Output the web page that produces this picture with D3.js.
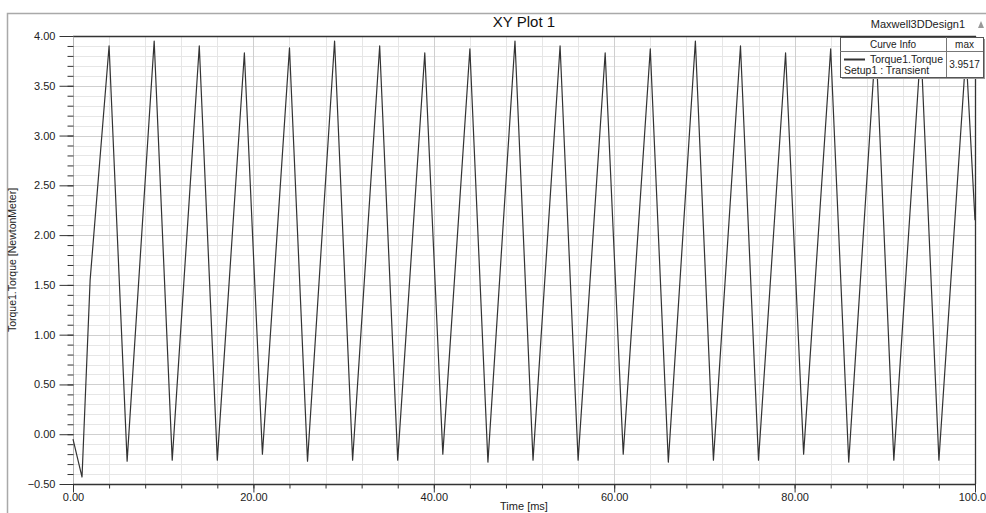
<!DOCTYPE html>
<html>
<head>
<meta charset="utf-8">
<script src="https://cdn.jsdelivr.net/npm/d3@7"></script>
<style>
  body { margin: 0; background: #fff; }
  svg { display: block; font-family: "Liberation Sans", Arial, sans-serif; }
</style>
</head>
<body>
<svg id="drawsvg" width="986" height="513"></svg>
<script>
// torque samples (vertices of the curve)
var timeMs = [0, 1, 1.9, 4, 6, 9, 11, 14, 16, 19, 21, 24, 26, 29, 31, 34, 36, 39, 41, 44,
              46, 49, 51, 54, 56, 59, 61, 64, 66, 69, 71, 74, 76, 79, 81, 84, 86, 89, 91, 94,
              96, 99, 100];
var torque = [-0.05, -0.43, 1.55, 3.90, -0.27, 3.95, -0.26, 3.90, -0.26, 3.83, -0.20, 3.88,
              -0.27, 3.95, -0.26, 3.90, -0.26, 3.83, -0.20, 3.87, -0.28, 3.95, -0.26, 3.90,
              -0.26, 3.83, -0.20, 3.87, -0.28, 3.95, -0.26, 3.90, -0.26, 3.83, -0.20, 3.87,
              -0.28, 3.9517, -0.26, 3.90, -0.26, 3.83, 2.15];

var xMajorTicks = [0, 20, 40, 60, 80, 100];
var yMajorTicks = [-0.5, 0, 0.5, 1, 1.5, 2, 2.5, 3, 3.5, 4];
var legendCols = ['Curve Info', 'max'];
var legendName = 'Torque1.Torque';
var legendSetup = 'Setup1 : Transient';
var legendMax = '3.9517';

var margin = {left: 73, top: 36, right: 975, bottom: 484};

var svg = d3.select('#drawsvg');

var x = d3.scaleLinear().domain([0, 100]).range([margin.left, margin.right]);
var y = d3.scaleLinear().domain([-0.5, 4]).range([margin.bottom, margin.top]);

var xMinorTicks = d3.range(0, 100.001, 4);
var yMinorTicks = d3.range(-0.5, 4.001, 0.1).map(function(d){ return +d.toFixed(2); });

// outer frame
svg.append('path')
   .attr('d', 'M7.5,513 V13.5 H986')
   .style('fill', 'none')
   .style('stroke', '#a9a9a9')
   .style('stroke-width', 1.5);

// grid
var grid = svg.append('g');
grid.selectAll('.hminor').data(yMinorTicks).enter().append('line')
    .attr('x1', margin.left).attr('x2', margin.right)
    .attr('y1', function(d){ return Math.round(y(d)) + 0.5; })
    .attr('y2', function(d){ return Math.round(y(d)) + 0.5; })
    .style('stroke', '#e6e6e6');
grid.selectAll('.vminor').data(xMinorTicks).enter().append('line')
    .attr('y1', margin.top).attr('y2', margin.bottom)
    .attr('x1', function(d){ return Math.round(x(d)) + 0.5; })
    .attr('x2', function(d){ return Math.round(x(d)) + 0.5; })
    .style('stroke', '#e6e6e6');
grid.selectAll('.hmajor').data(yMajorTicks).enter().append('line')
    .attr('x1', margin.left).attr('x2', margin.right)
    .attr('y1', function(d){ return Math.round(y(d)) + 0.5; })
    .attr('y2', function(d){ return Math.round(y(d)) + 0.5; })
    .style('stroke', '#cfcfcf');
grid.selectAll('.vmajor').data(xMajorTicks).enter().append('line')
    .attr('y1', margin.top).attr('y2', margin.bottom)
    .attr('x1', function(d){ return Math.round(x(d)) + 0.5; })
    .attr('x2', function(d){ return Math.round(x(d)) + 0.5; })
    .style('stroke', '#cfcfcf');

// plot border (top / right dark, left light)
svg.append('line').attr('x1', margin.left).attr('x2', margin.right + 1)
   .attr('y1', margin.top + 0.5).attr('y2', margin.top + 0.5)
   .style('stroke', '#333').style('stroke-width', 1.3);
svg.append('line').attr('x1', margin.right + 0.5).attr('x2', margin.right + 0.5)
   .attr('y1', margin.top).attr('y2', margin.bottom)
   .style('stroke', '#333').style('stroke-width', 1.3);
svg.append('line').attr('x1', margin.left + 0.5).attr('x2', margin.left + 0.5)
   .attr('y1', margin.top).attr('y2', margin.bottom)
   .style('stroke', '#b5b5b5');

// axes
var yMinorAxis = d3.axisLeft(y).tickValues(yMinorTicks).tickSize(6).tickSizeOuter(0).tickFormat('');
var yAxis = d3.axisLeft(y).tickValues(yMajorTicks).tickSize(14).tickSizeOuter(0)
              .tickPadding(4).tickFormat(d3.format('.2f'));
var xMinorAxis = d3.axisBottom(x).tickValues(xMinorTicks).tickSize(4).tickSizeOuter(0).tickFormat('');
var xAxis = d3.axisBottom(x).tickValues(xMajorTicks).tickSize(8).tickSizeOuter(0)
              .tickPadding(1).tickFormat(d3.format('.2f'));

function styleAxis(g){
  g.selectAll('.domain').remove();
  g.selectAll('line').style('stroke', '#333');
  g.selectAll('text').style('fill', '#222').style('font-size', '11px')
   .style('font-family', '"Liberation Sans", Arial, sans-serif');
}

svg.append('g').attr('transform', 'translate(' + (margin.left + 0.5) + ',0)').call(yMinorAxis).call(styleAxis);
svg.append('g').attr('transform', 'translate(' + (margin.left + 0.5) + ',0)').call(yAxis).call(styleAxis);
svg.append('g').attr('transform', 'translate(0,' + (margin.bottom + 0.5) + ')').call(xMinorAxis).call(styleAxis);
svg.append('g').attr('transform', 'translate(0,' + (margin.bottom + 0.5) + ')').call(xAxis).call(styleAxis);

svg.append('line').attr('x1', margin.left).attr('x2', margin.right + 1)
   .attr('y1', margin.bottom + 0.5).attr('y2', margin.bottom + 0.5)
   .style('stroke', '#333').style('stroke-width', 1.5);

// curve
var line = d3.line()
  .x(function(d){ return x(d[0]); })
  .y(function(d){ return y(d[1]); });

svg.append('path')
   .datum(timeMs.map(function(t, i){ return [t, torque[i]]; }))
   .attr('d', line)
   .style('fill', 'none')
   .style('stroke', '#333')
   .style('stroke-width', 1.2)
   .style('stroke-linejoin', 'round');

// titles
svg.append('text').text('XY Plot 1')
   .attr('x', 524).attr('y', 27)
   .attr('text-anchor', 'middle')
   .style('font-size', '15px').style('fill', '#111');

svg.append('text').text('Maxwell3DDesign1')
   .attr('x', 965).attr('y', 28)
   .attr('text-anchor', 'end')
   .style('font-size', '11px').style('fill', '#222');

svg.append('path')
   .attr('d', 'M978,28 L981,21 L984,28 Z')
   .style('fill', '#999');

svg.append('text').text('Time [ms]')
   .attr('x', 524).attr('y', 510)
   .attr('text-anchor', 'middle')
   .style('font-size', '11px').style('fill', '#222');

svg.append('text').text('Torque1.Torque [NewtonMeter]')
   .attr('transform', 'translate(16,260) rotate(-90)')
   .attr('text-anchor', 'middle')
   .style('font-size', '10.5px').style('fill', '#222');

// legend
var lg = svg.append('g').attr('transform', 'translate(840,37)');
var lw = 143, lh = 40, colX = 106, rowY = 14;
lg.append('rect').attr('x', 2).attr('y', 2).attr('width', lw).attr('height', lh)
  .style('fill', '#9a9a9a');
lg.append('rect').attr('x', 0.5).attr('y', 0.5).attr('width', lw).attr('height', lh)
  .style('fill', '#fff').style('stroke', '#555');
lg.append('line').attr('x1', 0).attr('x2', lw).attr('y1', rowY + 0.5).attr('y2', rowY + 0.5)
  .style('stroke', '#777');
lg.append('line').attr('x1', colX + 0.5).attr('x2', colX + 0.5).attr('y1', 0).attr('y2', lh)
  .style('stroke', '#777');
lg.selectAll('.hdr').data(legendCols).enter().append('text')
  .text(function(d){ return d; })
  .attr('x', function(d, i){ return i == 0 ? colX / 2 : colX + (lw - colX) / 2; })
  .attr('y', 10.5)
  .attr('text-anchor', 'middle')
  .style('font-size', '10px').style('fill', '#222');
lg.append('line').attr('x1', 4).attr('x2', 25).attr('y1', 22.5).attr('y2', 22.5)
  .style('stroke', '#333').style('stroke-width', 2);
lg.append('text').text(legendName).attr('x', 103).attr('y', 26)
  .attr('text-anchor', 'end').style('font-size', '10.5px').style('fill', '#222');
lg.append('text').text(legendSetup).attr('x', 4).attr('y', 37)
  .style('font-size', '10.5px').style('fill', '#222');
lg.append('text').text(legendMax).attr('x', colX + (lw - colX) / 2).attr('y', 31)
  .attr('text-anchor', 'middle').style('font-size', '10px').style('fill', '#222');
</script>
</body>
</html>
